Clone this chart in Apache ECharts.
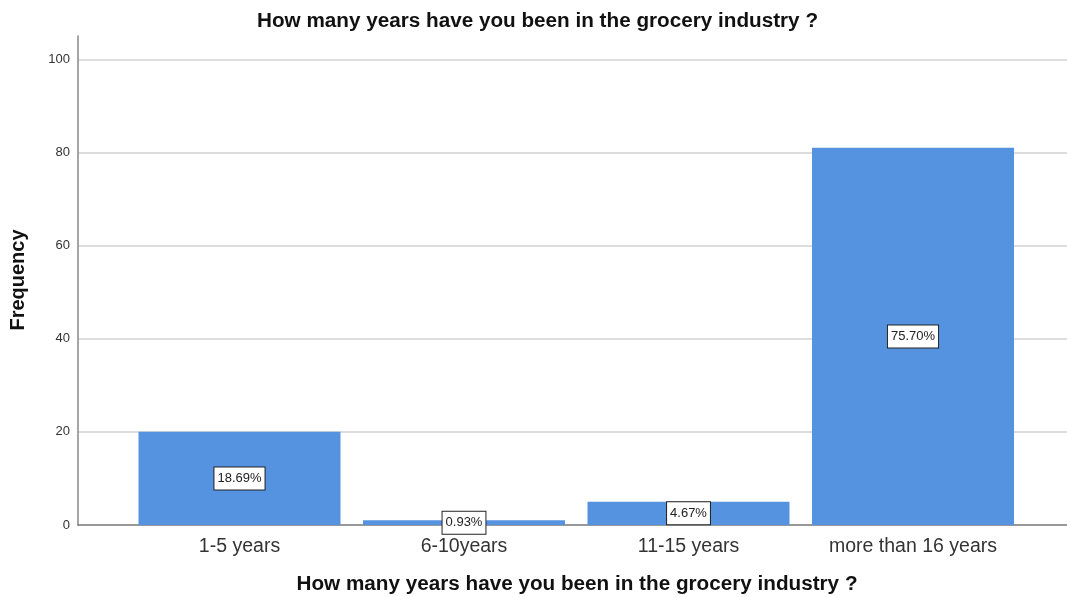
<!DOCTYPE html>
<html>
<head>
<meta charset="utf-8">
<script src="https://cdn.jsdelivr.net/npm/echarts@6/dist/echarts.min.js"></script>
<style>
  html, body { margin: 0; padding: 0; background: #ffffff; }
  #chart { width: 1067px; height: 597px; }
</style>
</head>
<body>
<div id="chart"></div>
<script>
// Survey answers: years spent in the grocery industry
const categories = ['1-5 years', '6-10years', '11-15 years', 'more than 16 years'];
const frequencies = [20, 1, 5, 81];
const yTicks = [0, 20, 40, 60, 80, 100];
const chartTitle = 'How many years have you been in the grocery industry ?';
const yTitle = 'Frequency';

const total = frequencies.reduce((a, b) => a + b, 0);
const percentLabel = (v) => (v / total * 100).toFixed(2) + '%';

const FONT = 'Arial, "Liberation Sans", Helvetica, sans-serif';
const Y_MAX = 105;

const chart = echarts.init(document.getElementById('chart'), null, { renderer: 'canvas' });

chart.setOption({
  backgroundColor: '#ffffff',
  animation: false,
  title: [
    {
      text: chartTitle,
      left: 532.5, top: 6, textAlign: 'center',
      textStyle: { fontFamily: FONT, fontSize: 20.7, fontWeight: 'bold', color: '#111' }
    },
    {
      text: chartTitle,
      left: 572, top: 569, textAlign: 'center',
      textStyle: { fontFamily: FONT, fontSize: 20.7, fontWeight: 'bold', color: '#111' }
    }
  ],
  graphic: [{
    type: 'text',
    x: 18, y: 280, rotation: Math.PI / 2,
    style: {
      text: yTitle, fill: '#111',
      font: 'bold 20px ' + FONT,
      textAlign: 'center', textVerticalAlign: 'middle'
    }
  }],
  grid: [
    // frame: value axis, gridlines and axis lines
    { left: 78, right: 0, top: 36, bottom: 72 },
    // bars
    { left: 127.25, right: 41.75, top: 36, bottom: 72 }
  ],
  xAxis: [
    {
      gridIndex: 0, type: 'value', min: 0, max: 1,
      axisLine: { show: true, lineStyle: { color: '#777', width: 1.5 } },
      axisTick: { show: false }, axisLabel: { show: false }, splitLine: { show: false }
    },
    {
      gridIndex: 1, type: 'category', data: categories,
      axisLine: { show: false }, axisTick: { show: false },
      axisLabel: { fontFamily: FONT, fontSize: 19.5, color: '#333', margin: 12 }
    }
  ],
  yAxis: [
    {
      gridIndex: 0, type: 'value', min: yTicks[0], max: Y_MAX, interval: 20,
      axisLine: { show: true, lineStyle: { color: '#888', width: 1.5 } },
      axisTick: { show: false },
      axisLabel: { fontFamily: FONT, fontSize: 13, color: '#333', margin: 8, showMaxLabel: false },
      splitLine: { show: true, showMaxLine: false, showMinLine: false,
                   lineStyle: { color: '#d2d2d2', width: 1.5 } }
    },
    {
      gridIndex: 1, type: 'value', min: yTicks[0], max: Y_MAX, show: false,
      splitLine: { show: false }
    }
  ],
  series: [{
    type: 'bar',
    xAxisIndex: 1, yAxisIndex: 1,
    data: frequencies,
    barWidth: 202,
    itemStyle: { color: '#5593e0' },
    label: {
      show: true, position: 'inside',
      formatter: (p) => percentLabel(p.value),
      fontFamily: FONT, fontSize: 13, color: '#222',
      backgroundColor: '#ffffff', borderColor: '#222', borderWidth: 1,
      padding: [4, 3], lineHeight: 14
    }
  }]
});
</script>
</body>
</html>
